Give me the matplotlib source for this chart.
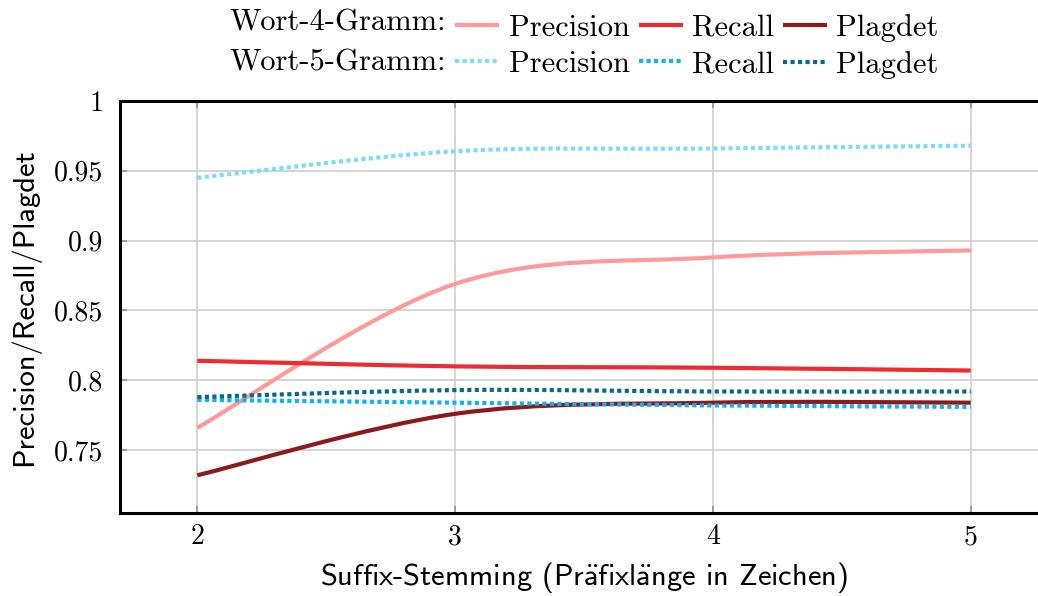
import numpy as np
import matplotlib
matplotlib.use("Agg")
import matplotlib.pyplot as plt
from matplotlib.path import Path
from matplotlib.patches import PathPatch
from matplotlib.lines import Line2D
from matplotlib.ticker import FuncFormatter

plt.rcParams["mathtext.fontset"] = "cm"

# data
prefix_len = [2, 3, 4, 5]
w4_precision = [0.766, 0.869, 0.888, 0.893]
w4_recall = [0.814, 0.810, 0.809, 0.807]
w4_plagdet = [0.732, 0.776, 0.784, 0.784]
w5_precision = [0.945, 0.964, 0.966, 0.968]
w5_recall = [0.786, 0.784, 0.782, 0.781]
w5_plagdet = [0.788, 0.793, 0.792, 0.792]

serif = ["cmr10", "DejaVu Serif"]
sans = ["cmss10", "DejaVu Sans"]

c_w4 = ["#ff9a9a", "#ee2b2e", "#8c1a1c"]
c_w5 = ["#80dcff", "#12b4ef", "#08698c"]
dots = (0, (1.0, 0.8))


def smooth_path(x, y, tension=0.5):
    # cubic bezier through the points, similar to tikz "smooth"
    pts = np.column_stack([x, y]).astype(float)
    n = len(pts)
    verts = [pts[0]]
    codes = [Path.MOVETO]
    for i in range(n - 1):
        p0 = pts[max(i - 1, 0)]
        p1 = pts[i]
        p2 = pts[i + 1]
        p3 = pts[min(i + 2, n - 1)]
        c1 = p1 + (p2 - p0) * tension / 3
        c2 = p2 - (p3 - p1) * tension / 3
        verts += [c1, c2, p2]
        codes += [Path.CURVE4] * 3
    return Path(verts, codes)


fig = plt.figure(figsize=(10.38, 5.96), dpi=100)
ax = fig.add_axes([120 / 1038, 1 - 513 / 596, 928 / 1038, 412 / 596])

series = [
    (w4_precision, c_w4[0], "-"), (w4_recall, c_w4[1], "-"), (w4_plagdet, c_w4[2], "-"),
    (w5_precision, c_w5[0], dots), (w5_recall, c_w5[1], dots), (w5_plagdet, c_w5[2], dots),
]
handles = []
for vals, col, ls in series:
    p = PathPatch(smooth_path(prefix_len, vals), fill=False, edgecolor=col,
                  linewidth=3, linestyle=ls, capstyle="butt", zorder=3)
    ax.add_patch(p)
    handles.append(Line2D([], [], color=col, linewidth=3, linestyle=ls,
                          solid_capstyle="butt", dash_capstyle="butt"))

ax.set_xlim(1.7, 5.3)
ax.set_ylim(0.705, 1.0)
ax.set_xticks(prefix_len)
ax.set_yticks([0.75, 0.8, 0.85, 0.9, 0.95, 1.0])
ax.yaxis.set_major_formatter(FuncFormatter(lambda v, _: f"{v:g}"))
ax.grid(True, color="#d2d2d2", linewidth=1.3)
ax.set_axisbelow(True)
ax.tick_params(direction="in", length=5, width=1.3, color="#999999",
               top=True, right=True, labelsize=20)
ax.tick_params(axis="x", pad=8)
ax.tick_params(axis="y", pad=12)
for lab in ax.get_xticklabels() + ax.get_yticklabels():
    lab.set_family(serif)
for s in ax.spines.values():
    s.set_linewidth(2.2)

xlabel = r"Suffix-Stemming (Pr$\mathsf{\ddot{a}}$fixl$\mathsf{\ddot{a}}$nge in Zeichen)"
ax.set_xlabel(xlabel, family=sans, fontsize=22, labelpad=7)
ax.set_ylabel("Precision/Recall/Plagdet", family=sans, fontsize=22, labelpad=10)

# legend: row titles as text, entries in three columns
fig.text(446 / 1038, 1 - 23 / 596, "Wort-4-Gramm:", ha="right", va="center",
         family=serif, fontsize=22)
fig.text(446 / 1038, 1 - 63 / 596, "Wort-5-Gramm:", ha="right", va="center",
         family=serif, fontsize=22)
order = [0, 3, 1, 4, 2, 5]
labels = ["Precision", "Recall", "Plagdet"] * 2
fig.legend([handles[i] for i in order], [labels[i] for i in order], ncol=3,
           loc="upper left", bbox_to_anchor=(437 / 1038, 1.008), frameon=False,
           prop={"family": serif, "size": 22}, handlelength=1.44,
           handletextpad=0.3, columnspacing=0.3, labelspacing=0.3, borderpad=0.1)

fig.savefig("out.png", dpi=100)
